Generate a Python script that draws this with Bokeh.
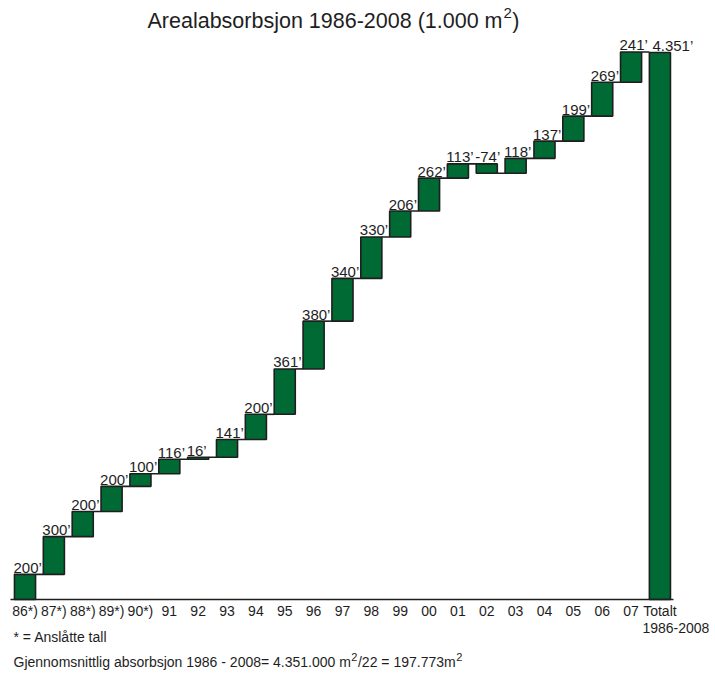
import numpy as np
from bokeh.plotting import figure
from bokeh.models import Range1d, Label, ColumnDataSource
from bokeh.embed import file_html
from bokeh.resources import INLINE
from bokeh.core.properties import value

# --- data -----------------------------------------------------------------
years = ["86*)", "87*)", "88*)", "89*)", "90*)", "91", "92", "93", "94", "95",
         "96", "97", "98", "99", "00", "01", "02", "03", "04", "05", "06", "07"]
changes = [200, 300, 200, 200, 100, 116, 16, 141, 200, 361, 380, 340, 330,
           206, 262, 113, -74, 118, 137, 199, 269, 241]
total_name = "Totalt"
total_period = "1986-2008"
total_value = 4351
total_text = "4.351’"

# --- layout constants -------------------------------------------------------
W, H = 715, 673
BASE_PX = 599          # pixel row of the baseline
TOP_PX = 52            # pixel row of the total bar's top
X0_PX = 24.5           # centre of the first bar, px
STEP_PX = 28.86        # distance between bar centres, px
BAR_W = 0.73
FONT = "Liberation Sans"
GREEN = "#006a35"
INK = "#1e1e1e"

ppu_y = (BASE_PX - TOP_PX) / total_value
x_start = -X0_PX / STEP_PX
x_end = x_start + W / STEP_PX


def data_x(px):
    return x_start + px / STEP_PX


def data_y(py):
    return (BASE_PX - py) / ppu_y


# Helvetica/Arial advance widths (1/1000 em) for placing superscripts
ADV = {"A": 667, "G": 778, "T": 611, "a": 556, "b": 556, "e": 556, "g": 556,
       "i": 222, "j": 222, "l": 222, "m": 833, "n": 556, "o": 556, "r": 333,
       "s": 500, "t": 278, " ": 278, "-": 333, "(": 333, ")": 333, ".": 278,
       "=": 584, "/": 278, "*": 389, "å": 556}


def text_w(s, size):
    return sum(ADV.get(c, 556) for c in s) * size / 1000.0


# --- waterfall geometry -----------------------------------------------------
n = len(changes)
ends = np.cumsum(changes)
starts = ends - np.array(changes)
xs = np.arange(n)

bars = ColumnDataSource(dict(
    left=list(xs - BAR_W / 2) + [n - BAR_W / 2],
    right=list(xs + BAR_W / 2) + [n + BAR_W / 2],
    bottom=list(np.minimum(starts, ends)) + [0],
    top=list(np.maximum(starts, ends)) + [total_value],
))

links = ColumnDataSource(dict(
    x0=list(xs + BAR_W / 2),
    x1=list(xs + 1 - BAR_W / 2),
    y=list(ends),
))

labels = ColumnDataSource(dict(
    x=list(xs - BAR_W / 2),
    y=list(np.maximum(starts, ends)),
    text=[f"{v}’" for v in changes],
))

ticks = ColumnDataSource(dict(
    x=list(range(n + 1)),
    y=[0] * (n + 1),
    text=years + [total_name],
))

# --- figure -----------------------------------------------------------------
p = figure(width=W, height=H, output_backend="svg", toolbar_location=None,
           x_range=Range1d(x_start, x_end),
           y_range=Range1d(data_y(H), data_y(0)),
           x_axis_location=None, y_axis_location=None,
           min_border_left=0, min_border_right=0,
           min_border_top=0, min_border_bottom=0)
p.outline_line_color = None
p.xgrid.visible = False
p.ygrid.visible = False
p.background_fill_color = "white"
p.border_fill_color = "white"

p.quad(left="left", right="right", bottom="bottom", top="top", source=bars,
       fill_color=GREEN, line_color=INK, line_width=1.6)
p.segment(x0="x0", x1="x1", y0="y", y1="y", source=links,
          line_color=INK, line_width=1.6)
p.text(x="x", y="y", text="text", source=labels, text_font=value(FONT),
       text_font_size="15px", text_color=INK, text_baseline="alphabetic",
       text_align="left", x_offset=-1, y_offset=-7)
p.text(x=[n - BAR_W / 2], y=[total_value], text=[total_text],
       text_font=value(FONT), text_font_size="15px", text_color=INK,
       text_baseline="alphabetic", text_align="left", x_offset=3, y_offset=-7)

# category axis along the baseline
p.segment(x0=[data_x(10)], x1=[data_x(673)], y0=[0], y1=[0],
          line_color=INK, line_width=1.6)
TICK_SIZE = 14
p.text(x="x", y="y", text="text", source=ticks, text_font=value(FONT),
       text_font_size=f"{TICK_SIZE}px", text_color=INK,
       text_baseline="alphabetic", text_align="center", y_offset=11)
p.text(x=[n], y=[0], text=[total_period], text_font=value(FONT),
       text_font_size=f"{TICK_SIZE}px", text_color=INK,
       text_baseline="alphabetic", text_align="left",
       x_offset=-text_w(total_name, TICK_SIZE) / 2, y_offset=28)

# --- title with superscript ------------------------------------------------
title_main = "Arealabsorbsjon 1986-2008 (1.000 m"
T_SIZE, S_SIZE = 21.5, 15
tx = 147
ty = 20
p.add_layout(Label(x=data_x(tx), y=data_y(ty), text=title_main,
                   text_font=FONT, text_font_size=f"{T_SIZE}px",
                   text_color=INK, text_baseline="alphabetic"))
tx2 = tx + text_w(title_main, T_SIZE) + 1
p.add_layout(Label(x=data_x(tx2), y=data_y(ty - 8), text="2",
                   text_font=FONT, text_font_size=f"{S_SIZE}px",
                   text_color=INK, text_baseline="alphabetic"))
tx3 = tx2 + text_w("2", S_SIZE) + 0.5
p.add_layout(Label(x=data_x(tx3), y=data_y(ty), text=")",
                   text_font=FONT, text_font_size=f"{T_SIZE}px",
                   text_color=INK, text_baseline="alphabetic"))

# --- footnotes ----------------------------------------------------------------
F_SIZE, FS_SIZE = 14, 11
fx = 13
p.add_layout(Label(x=data_x(fx), y=data_y(636), text="* = Anslåtte tall",
                   text_font=FONT, text_font_size=f"{F_SIZE}px",
                   text_color=INK, text_baseline="alphabetic"))

pieces = [("Gjennomsnittlig absorbsjon 1986 - 2008= 4.351.000 m", False),
          ("2", True),
          ("/22 = 197.773m", False),
          ("2", True)]
cx = fx
for txt, sup in pieces:
    size = FS_SIZE if sup else F_SIZE
    base = 661 - (5 if sup else 0)
    p.add_layout(Label(x=data_x(cx), y=data_y(base), text=txt,
                       text_font=FONT, text_font_size=f"{size}px",
                       text_color=INK, text_baseline="alphabetic"))
    cx += text_w(txt, size) + 0.5

open("out.html", "w").write(file_html(p, INLINE))
